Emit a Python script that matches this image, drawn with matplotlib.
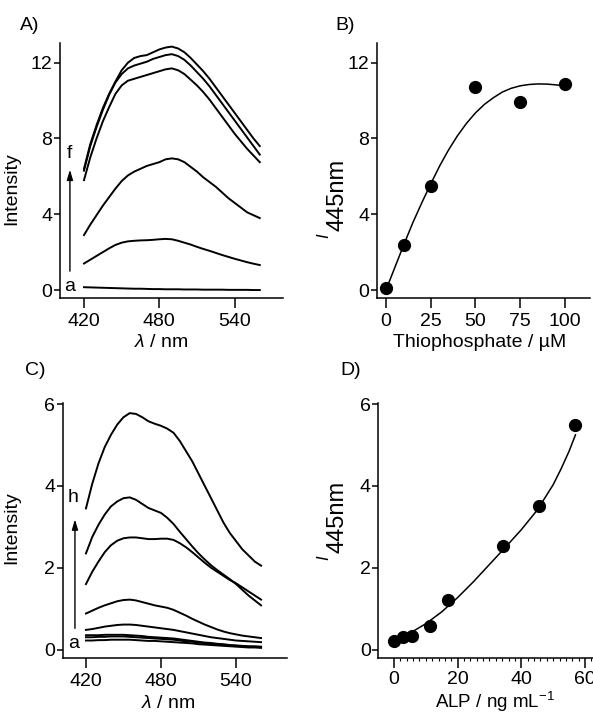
import numpy as np
import matplotlib
matplotlib.use('Agg')
import matplotlib.pyplot as plt

plt.rcParams['font.family'] = ['Liberation Sans', 'DejaVu Sans']
plt.rcParams['mathtext.fontset'] = 'custom'
plt.rcParams['mathtext.rm'] = 'Liberation Sans'
plt.rcParams['mathtext.it'] = 'Liberation Sans:italic'

# ---- data -------------------------------------------------------------
wl = list(range(420, 565, 5))

# panel A spectra, curves a..f
A_a = [0.15, 0.14, 0.13, 0.12, 0.11, 0.10, 0.09, 0.08, 0.07, 0.07, 0.06, 0.05, 0.05, 0.04, 0.04,
       0.04, 0.03, 0.03, 0.03, 0.02, 0.02, 0.02, 0.02, 0.01, 0.01, 0.01, 0.01, 0.00, 0.00]
A_b = [1.4, 1.6, 1.8, 2.0, 2.2, 2.38, 2.5, 2.57, 2.6, 2.62, 2.63, 2.65, 2.68, 2.7, 2.68,
       2.6, 2.5, 2.4, 2.28, 2.17, 2.07, 1.96, 1.85, 1.75, 1.65, 1.56, 1.47, 1.39, 1.32]
A_c = [2.9, 3.45, 3.95, 4.45, 4.9, 5.35, 5.75, 6.05, 6.25, 6.4, 6.55, 6.65, 6.75, 6.9, 6.95,
       6.9, 6.75, 6.5, 6.25, 5.95, 5.7, 5.45, 5.15, 4.85, 4.6, 4.35, 4.1, 3.95, 3.8]
A_d = [5.8, 7.0, 8.0, 8.9, 9.65, 10.35, 10.8, 11.05, 11.15, 11.25, 11.35, 11.45, 11.55, 11.65, 11.7,
       11.6, 11.4, 11.1, 10.8, 10.45, 10.05, 9.6, 9.15, 8.7, 8.25, 7.85, 7.45, 7.1, 6.75]
A_e = [6.3, 7.6, 8.6, 9.5, 10.3, 10.95, 11.4, 11.7, 11.85, 11.95, 12.05, 12.2, 12.3, 12.4, 12.45,
       12.35, 12.15, 11.85, 11.5, 11.15, 10.75, 10.3, 9.85, 9.4, 8.95, 8.5, 8.05, 7.6, 7.15]
A_f = [6.4, 7.7, 8.7, 9.6, 10.35, 11.0, 11.6, 12.0, 12.25, 12.35, 12.4, 12.55, 12.7, 12.8, 12.85,
       12.75, 12.55, 12.25, 11.9, 11.55, 11.15, 10.7, 10.25, 9.8, 9.35, 8.9, 8.45, 8.0, 7.6]

# panel B
thio = [0, 10, 25, 50, 75, 100]
thio_I = [0.1, 2.4, 5.5, 10.7, 9.9, 10.9]
thio_fit_x = [0, 5, 10, 15, 20, 25, 30, 35, 40, 45, 50, 55, 60, 65, 70, 75, 80, 85, 90, 95, 100]
thio_fit_y = [0.0, 1.2, 2.4, 3.55, 4.6, 5.6, 6.55, 7.4, 8.15, 8.8, 9.35, 9.8, 10.15, 10.45,
              10.65, 10.78, 10.85, 10.88, 10.87, 10.83, 10.78]

# panel C spectra, curves a..h
C_a = [0.22, 0.22, 0.23, 0.23, 0.24, 0.24, 0.24, 0.24, 0.23, 0.22, 0.21, 0.21, 0.2, 0.19, 0.18,
       0.17, 0.16, 0.15, 0.13, 0.12, 0.11, 0.1, 0.09, 0.08, 0.07, 0.06, 0.05, 0.05, 0.04]
C_b = [0.3, 0.3, 0.31, 0.31, 0.32, 0.32, 0.32, 0.31, 0.3, 0.29, 0.28, 0.27, 0.26, 0.25, 0.24,
       0.22, 0.2, 0.19, 0.17, 0.15, 0.14, 0.12, 0.11, 0.1, 0.09, 0.08, 0.07, 0.06, 0.06]
C_c = [0.35, 0.35, 0.35, 0.36, 0.36, 0.36, 0.36, 0.35, 0.34, 0.33, 0.31, 0.3, 0.29, 0.28, 0.27,
       0.25, 0.23, 0.21, 0.19, 0.17, 0.16, 0.14, 0.13, 0.11, 0.1, 0.09, 0.08, 0.08, 0.07]
C_d = [0.48, 0.5, 0.53, 0.56, 0.58, 0.6, 0.61, 0.61, 0.6, 0.58, 0.56, 0.54, 0.52, 0.5, 0.48,
       0.45, 0.42, 0.39, 0.36, 0.33, 0.3, 0.28, 0.26, 0.24, 0.22, 0.21, 0.2, 0.19, 0.18]
C_e = [0.88, 0.95, 1.02, 1.08, 1.13, 1.18, 1.21, 1.22, 1.2, 1.16, 1.12, 1.08, 1.05, 1.02, 0.97,
       0.9, 0.83, 0.75, 0.68, 0.61, 0.55, 0.49, 0.44, 0.4, 0.37, 0.34, 0.32, 0.3, 0.28]
C_f = [1.6, 1.9, 2.15, 2.38, 2.55, 2.66, 2.72, 2.74, 2.74, 2.72, 2.7, 2.7, 2.71, 2.71, 2.68,
       2.6, 2.5, 2.38, 2.25, 2.12, 2.0, 1.9, 1.8, 1.7, 1.62, 1.52, 1.42, 1.32, 1.22]
C_g = [2.35, 2.75, 3.05, 3.3, 3.5, 3.62, 3.7, 3.72, 3.66, 3.56, 3.46, 3.4, 3.34, 3.22, 3.07,
       2.88, 2.7, 2.52, 2.35, 2.2, 2.06, 1.94, 1.83, 1.72, 1.6, 1.46, 1.32, 1.2, 1.08]
C_h = [3.45, 4.05, 4.55, 4.95, 5.25, 5.5, 5.68, 5.78, 5.76, 5.68, 5.58, 5.52, 5.47, 5.4, 5.3,
       5.1, 4.85, 4.6, 4.3, 4.0, 3.7, 3.4, 3.1, 2.85, 2.65, 2.45, 2.3, 2.15, 2.05]

# panel D
alp = [0, 2.9, 5.8, 11.4, 17.0, 34.1, 45.6, 57.0]
alp_I = [0.22, 0.31, 0.34, 0.58, 1.2, 2.54, 3.52, 5.48]
alp_fit_x = [0, 5, 10, 15, 20, 25, 30, 35, 40, 45, 50, 52.5, 55, 57]
alp_fit_y = [0.25, 0.4, 0.63, 0.92, 1.27, 1.66, 2.08, 2.5, 2.93, 3.41, 4.03, 4.42, 4.85, 5.25]

FS = 14

fig = plt.figure(figsize=(5.93, 7.13), dpi=100)

def style(ax):
    ax.spines['top'].set_visible(False)
    ax.spines['right'].set_visible(False)
    for s in ['left', 'bottom']:
        ax.spines[s].set_linewidth(1.1)
    ax.tick_params(axis='y', direction='out', length=4, width=1.1, pad=1.5, labelsize=FS)
    ax.tick_params(axis='x', direction='out', length=7, width=1.1, pad=4, labelsize=FS)

def i445(x_i, x_n, y_base):
    # I_445nm label built from two rotated texts (figure pixel coords from top)
    fig.text(x_i / 593, 1 - y_base / 713, 'I', style='italic', fontsize=12, rotation=90,
             ha='center', va='bottom')
    fig.text(x_n / 593, 1 - (y_base - 7) / 713, '445nm', fontsize=17, rotation=90,
             ha='center', va='bottom')

# ---- A ----
axA = fig.add_axes([60/593, 1 - 298/713, 223/593, 255/713])
for y in [A_a, A_b, A_c, A_d, A_e, A_f]:
    axA.plot(wl, y, color='black', lw=1.4)
axA.set_xlim(400.9, 578.5)
axA.set_ylim(-0.42, 13.04)
axA.set_xticks([420, 480, 540])
axA.set_yticks([0, 4, 8, 12])
style(axA)
axA.set_ylabel('Intensity', fontsize=FS)
axA.yaxis.set_label_coords(-0.18, 0.43)
axA.set_xlabel(r'$\mathit{\lambda}$ / nm', fontsize=FS)
axA.xaxis.set_label_coords(0.453, -0.14)
axA.annotate('', xy=(408.8, 6.5), xytext=(408.8, 0.85),
             arrowprops=dict(arrowstyle='-|>,head_length=0.6,head_width=0.18', color='black', lw=1.0))
axA.text(408.8, 0.2, 'a', fontsize=FS, ha='center', va='center')
axA.text(408.8, 7.2, 'f', fontsize=FS, ha='center', va='center')
fig.text(20/593, 1 - 25/713, 'A)', fontsize=FS, ha='left', va='center')

# ---- B ----
axB = fig.add_axes([377/593, 1 - 298/713, 213/593, 255/713])
axB.plot(thio_fit_x, thio_fit_y, color='black', lw=1.1)
axB.plot(thio, thio_I, 'o', color='black', ms=8.5, clip_on=False)
axB.set_xlim(-5, 114)
axB.set_ylim(-0.42, 13.04)
axB.set_xticks([0, 25, 50, 75, 100])
axB.set_yticks([0, 4, 8, 12])
style(axB)
axB.set_xlabel('Thiophosphate / µM', fontsize=FS)
axB.xaxis.set_label_coords(0.484, -0.14)
i445(324, 338, 238)
fig.text(335/593, 1 - 25/713, 'B)', fontsize=FS, ha='left', va='center')

# ---- C ----
axC = fig.add_axes([62.7/593, 1 - 657.7/713, 224/593, 254.4/713])
for y in [C_a, C_b, C_c, C_d, C_e, C_f, C_g, C_h]:
    axC.plot(wl, y, color='black', lw=1.4)
axC.set_xlim(401.4, 580.5)
axC.set_ylim(-0.2, 6.02)
axC.set_xticks([420, 480, 540])
axC.set_yticks([0, 2, 4, 6])
style(axC)
axC.set_ylabel('Intensity', fontsize=FS)
axC.yaxis.set_label_coords(-0.19, 0.51)
axC.set_xlabel(r'$\mathit{\lambda}$ / nm', fontsize=FS)
axC.xaxis.set_label_coords(0.47, -0.145)
axC.annotate('', xy=(411.2, 3.25), xytext=(411.2, 0.45),
             arrowprops=dict(arrowstyle='-|>,head_length=0.6,head_width=0.18', color='black', lw=1.0))
axC.text(410.0, 0.15, 'a', fontsize=FS, ha='center', va='center')
axC.text(410.0, 3.72, 'h', fontsize=FS, ha='center', va='center')
fig.text(25/593, 1 - 370/713, 'C)', fontsize=FS, ha='left', va='center')

# ---- D ----
axD = fig.add_axes([378.3/593, 1 - 657.7/713, 221.7/593, 254.4/713])
axD.plot(alp_fit_x, alp_fit_y, color='black', lw=1.1)
axD.plot(alp, alp_I, 'o', color='black', ms=8.5, clip_on=False)
axD.set_xlim(-4.9, 64.7)
axD.set_ylim(-0.2, 6.02)
axD.set_xticks([0, 20, 40, 60])
axD.set_xticks(np.arange(0, 64, 2), minor=True)
axD.set_yticks([0, 2, 4, 6])
style(axD)
axD.tick_params(axis='x', which='major', pad=2.5)
axD.tick_params(axis='x', which='minor', direction='out', length=2.5, width=0.8)
axD.set_xlabel(r'ALP / ng mL$^{\mathregular{-1}}$', fontsize=13.5)
axD.xaxis.set_label_coords(0.526, -0.125)
i445(324, 338, 560)
fig.text(340/593, 1 - 370/713, 'D)', fontsize=FS, ha='left', va='center')

plt.savefig('out.png', dpi=100)
